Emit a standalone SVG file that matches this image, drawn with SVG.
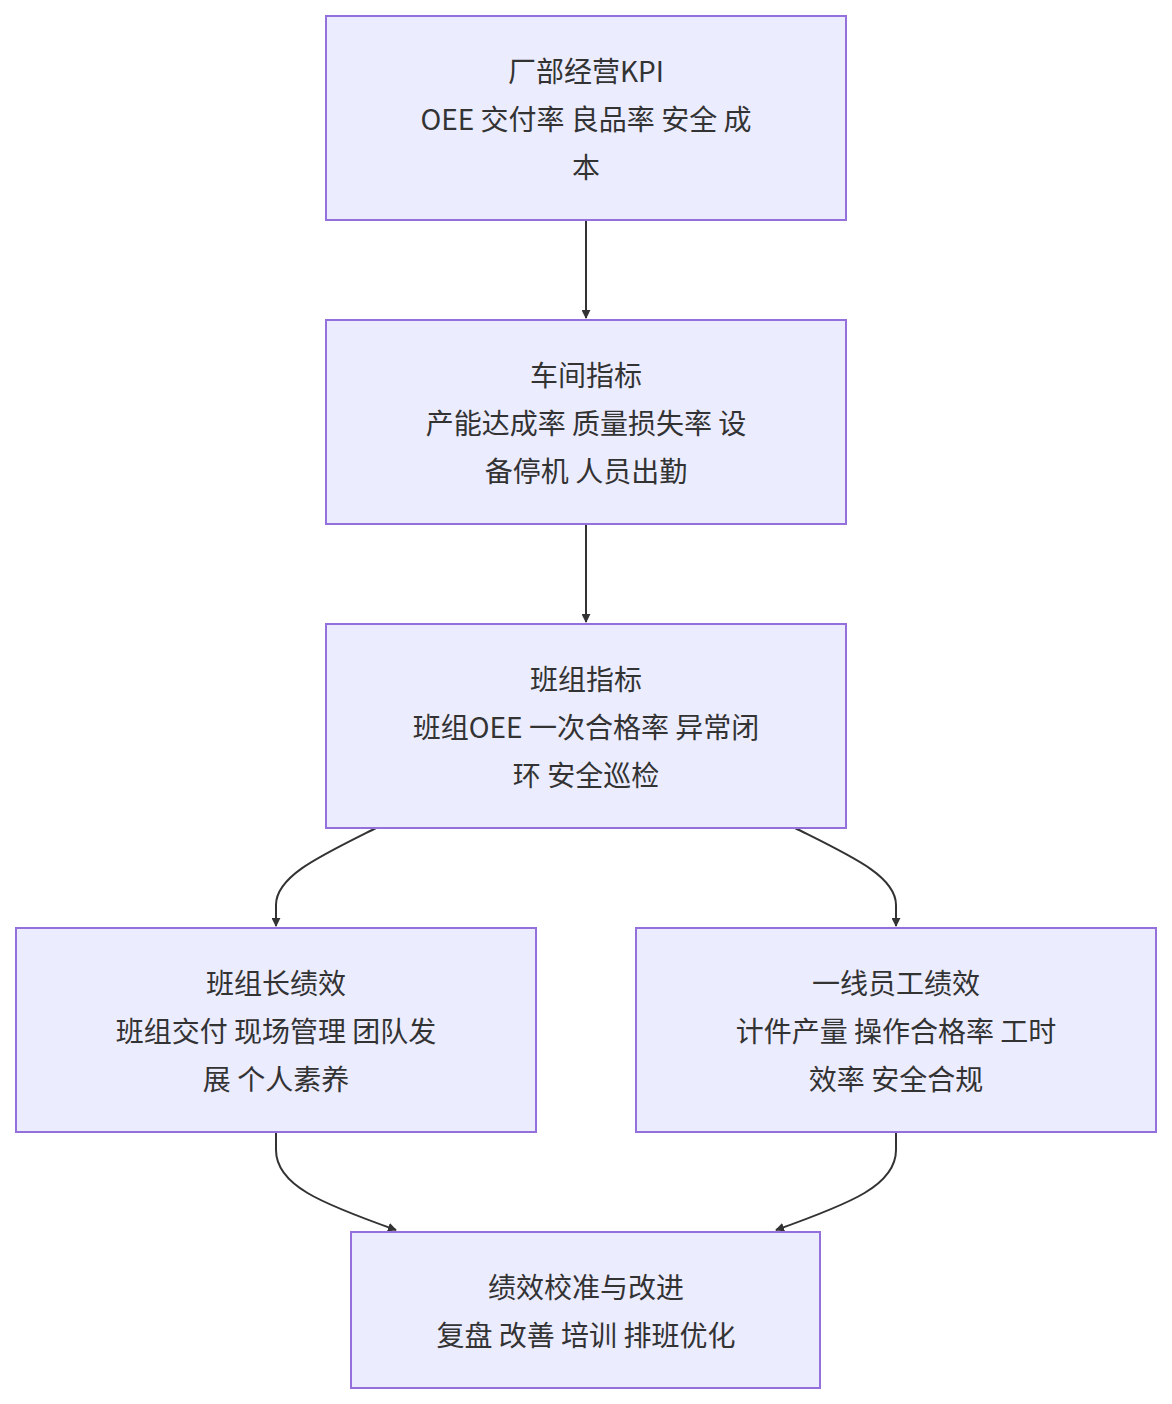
<svg xmlns="http://www.w3.org/2000/svg" width="1172" height="1404" viewBox="0 0 1172 1404">
<defs>
<marker id="ah" viewBox="0 0 10 10" refX="9" refY="5" markerWidth="9" markerHeight="9" markerUnits="userSpaceOnUse" orient="auto"><path d="M0,0L10,5L0,10z" fill="#333"/></marker>
<style>
rect{fill:#ECECFF;stroke:#9370DB;stroke-width:2}
text{font-family:"Noto Sans CJK SC","Noto Sans",sans-serif;font-size:28px;fill:#333;text-anchor:middle;dominant-baseline:central}
.e{fill:none;stroke:#333;stroke-width:2;marker-end:url(#ah)}
</style>
</defs>
<rect x="0" y="0" width="1172" height="1404" style="fill:#fff;stroke:none"/>
<g id="edges">
<path class="e" d="M586,220V318"/>
<path class="e" d="M586,524V622"/>
<path class="e" d="M376,828C320,856 276,876 276,905V926"/>
<path class="e" d="M795,828C851,856 896,876 896,905V926"/>
<path class="e" d="M276,1132V1150C276,1185 320,1203 396,1230"/>
<path class="e" d="M896,1132V1150C896,1185 852,1203 776,1230"/>
</g>
<g id="A"><rect x="326" y="16" width="520" height="204"/><text x="586" y="70">厂部经营KPI</text><text x="586" y="118">OEE 交付率 良品率 安全 成</text><text x="586" y="166">本</text></g>
<g id="B"><rect x="326" y="320" width="520" height="204"/><text x="586" y="374">车间指标</text><text x="586" y="422">产能达成率 质量损失率 设</text><text x="586" y="470">备停机 人员出勤</text></g>
<g id="C"><rect x="326" y="624" width="520" height="204"/><text x="586" y="678">班组指标</text><text x="586" y="726">班组OEE 一次合格率 异常闭</text><text x="586" y="774">环 安全巡检</text></g>
<g id="D"><rect x="16" y="928" width="520" height="204"/><text x="276" y="982">班组长绩效</text><text x="276" y="1030">班组交付 现场管理 团队发</text><text x="276" y="1078">展 个人素养</text></g>
<g id="E"><rect x="636" y="928" width="520" height="204"/><text x="896" y="982">一线员工绩效</text><text x="896" y="1030">计件产量 操作合格率 工时</text><text x="896" y="1078">效率 安全合规</text></g>
<g id="F"><rect x="351" y="1232" width="469" height="156"/><text x="586" y="1286">绩效校准与改进</text><text x="586" y="1334">复盘 改善 培训 排班优化</text></g>
</svg>
